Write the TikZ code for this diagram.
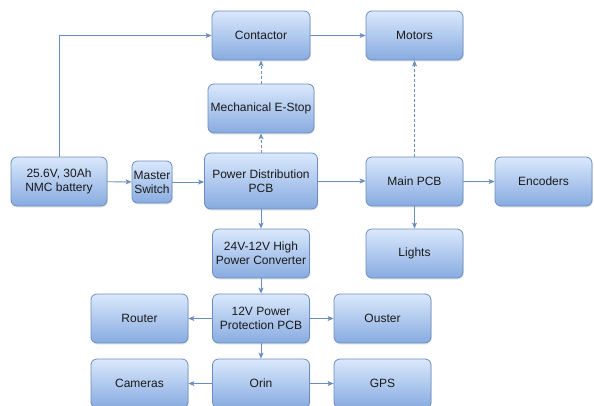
\documentclass[tikz,border=0pt]{standalone}
\usepackage{fontspec}
\setmainfont{Liberation Sans}
\usetikzlibrary{arrows.meta,shadows}
\definecolor{boxtop}{HTML}{DAE8FC}
\definecolor{boxbot}{HTML}{87ABE0}
\definecolor{boxline}{HTML}{6C8EBF}
\definecolor{txt}{HTML}{1A1A1A}
\tikzset{
  blk/.style={rectangle, rounded corners=6pt, draw=boxline, line width=0.8pt,
    top color=boxtop, bottom color=boxbot, align=center, text=txt,
    font=\fontsize{12}{14}\selectfont, inner sep=2pt,
    minimum width=97pt, minimum height=49pt,
    drop shadow={opacity=0.18, shadow xshift=0.8pt, shadow yshift=-1.5pt}},
  conn/.style={draw=boxline, line width=0.9pt, -{Stealth[length=6pt,width=5pt,inset=1.5pt]}},
  dconn/.style={conn, dash pattern=on 2.5pt off 2.5pt}
}
\begin{document}
\begin{tikzpicture}[x=1pt,y=-1pt]
\fill[white] (0,0) rectangle (594,405);
\useasboundingbox (0,0) rectangle (594,405);
\node[blk, minimum width=98pt] (contactor) at (261,35.5) {Contactor};
\node[blk] (motors) at (414.5,35.5) {Motors};
\node[blk, minimum width=106pt] (estop) at (261,108.5) {Mechanical E-Stop};
\node[blk, minimum width=113pt, minimum height=56pt] (pdb) at (261,181) {Power Distribution\\PCB};
\node[blk, minimum width=96pt] (battery) at (59,181.5) {25.6V, 30Ah\\NMC battery};
\node[blk, minimum width=40pt, minimum height=42pt, rounded corners=5pt, inner sep=1pt] (switch) at (152,182) {Master\\Switch};
\node[blk] (mainpcb) at (414.5,181.5) {Main PCB};
\node[blk] (encoders) at (543.5,181.5) {Encoders};
\node[blk] (conv) at (261,253.5) {24V-12V High\\Power Converter};
\node[blk] (lights) at (414.5,253.5) {Lights};
\node[blk] (pp) at (261,318.5) {12V Power\\Protection PCB};
\node[blk] (router) at (139.5,318.5) {Router};
\node[blk] (ouster) at (382.5,318.5) {Ouster};
\node[blk] (orin) at (261,383.5) {Orin};
\node[blk] (cameras) at (139.5,383.5) {Cameras};
\node[blk] (gps) at (382.5,383.5) {GPS};

\draw[conn] (battery.north) |- (contactor.west);
\draw[conn] (battery) -- (switch);
\draw[conn] (switch) -- (switch -| pdb.west);
\draw[conn] (pdb) -- (pdb -| mainpcb.west);
\draw[dconn] (pdb) -- (estop);
\draw[dconn] (estop) -- (contactor);
\draw[conn] (contactor) -- (motors);
\draw[dconn] (mainpcb) -- (motors);
\draw[conn] (mainpcb) -- (encoders);
\draw[conn] (mainpcb) -- (lights);
\draw[conn] (pdb) -- (conv);
\draw[conn] (conv) -- (pp);
\draw[conn] (pp) -- (router);
\draw[conn] (pp) -- (ouster);
\draw[conn] (pp) -- (orin);
\draw[conn] (orin) -- (cameras);
\draw[conn] (orin) -- (gps);
\end{tikzpicture}
\end{document}
